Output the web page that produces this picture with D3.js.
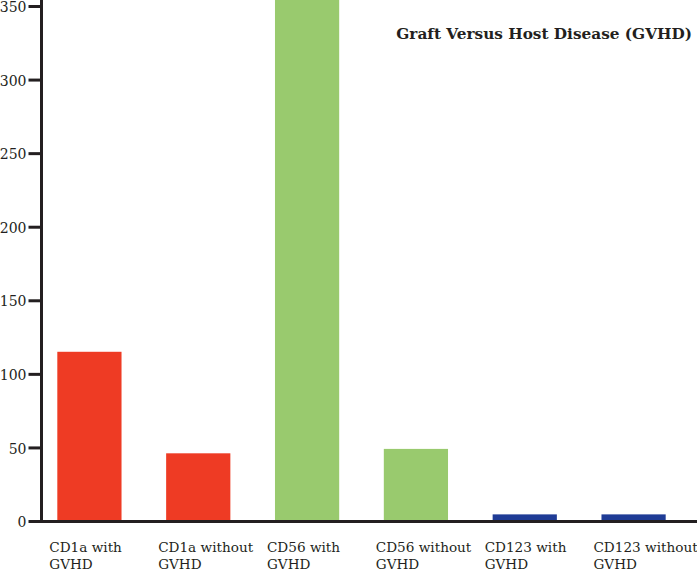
<!DOCTYPE html>
<html>
<head>
<meta charset="utf-8">
<script src="https://cdn.jsdelivr.net/npm/d3@7"></script>
<style>
  html, body { margin: 0; padding: 0; background: #ffffff; }
  svg { display: block; }
</style>
</head>
<body>
<div id="chart"></div>
<script>
const categories = ["CD1a with GVHD", "CD1a without GVHD", "CD56 with GVHD", "CD56 without GVHD", "CD123 with GVHD", "CD123 without GVHD"];
const labelLine1 = ["CD1a with", "CD1a without", "CD56 with", "CD56 without", "CD123 with", "CD123 without"];
const labelLine2 = ["GVHD", "GVHD", "GVHD", "GVHD", "GVHD", "GVHD"];
const values = [115, 46, 360, 49, 4.5, 4.5];
const barColors = ["#ee3b24", "#ee3b24", "#99ca6e", "#99ca6e", "#1f3c96", "#1f3c96"];
const yTicks = [0, 50, 100, 150, 200, 250, 300, 350];
const title = "Graft Versus Host Disease (GVHD)";

const W = 697, H = 572;
const svg = d3.select("#chart").append("svg").attr("width", W).attr("height", H);

const y = d3.scaleLinear().domain([0, 350]).range([521, 6]);
const x = d3.scaleBand().domain(categories).range([35, 688]).paddingInner(0.41).paddingOuter(0.205);

const font = "'DejaVu Serif', 'Liberation Serif', serif";

// bars
svg.append("g").selectAll("rect").data(categories).join("rect")
  .attr("x", d => x(d))
  .attr("width", x.bandwidth())
  .attr("y", (d, i) => y(values[i]))
  .attr("height", (d, i) => y(0) - y(values[i]))
  .attr("fill", (d, i) => barColors[i]);

// y axis
const yAxis = d3.axisLeft(y).tickValues(yTicks).tickSize(13).tickPadding(2).tickFormat(d3.format("d"));
const gy = svg.append("g").attr("transform", "translate(41.5,0)").call(yAxis);
gy.select(".domain").remove();
gy.append("line").attr("x1", 0).attr("x2", 0).attr("y1", 0).attr("y2", 522.5)
  .attr("stroke", "#231f20").attr("stroke-width", 3);
gy.selectAll(".tick line").attr("stroke", "#231f20").attr("stroke-width", 3);
gy.selectAll(".tick text").attr("fill", "#231f20").style("font-family", font).style("font-size", "14px")
  .attr("dy", "0.4em");

// baseline
svg.append("line").attr("x1", 40).attr("x2", W).attr("y1", y(0) + 0.5).attr("y2", y(0) + 0.5)
  .attr("stroke", "#231f20").attr("stroke-width", 3);

// category labels
const lab = svg.append("g").selectAll("text").data(categories).join("text")
  .attr("x", d => x(d) - 8)
  .attr("y", 552)
  .attr("fill", "#231f20")
  .style("font-family", font).style("font-size", "13.6px");
lab.append("tspan").text((d, i) => labelLine1[i]);
lab.append("tspan").attr("x", d => x(d) - 8).attr("dy", 17).text((d, i) => labelLine2[i]);

// title
svg.append("text").attr("x", 692).attr("y", 38.5).attr("text-anchor", "end")
  .attr("fill", "#231f20").style("font-family", font).style("font-weight", "bold").style("font-size", "15.3px")
  .text(title);
</script>
</body>
</html>
